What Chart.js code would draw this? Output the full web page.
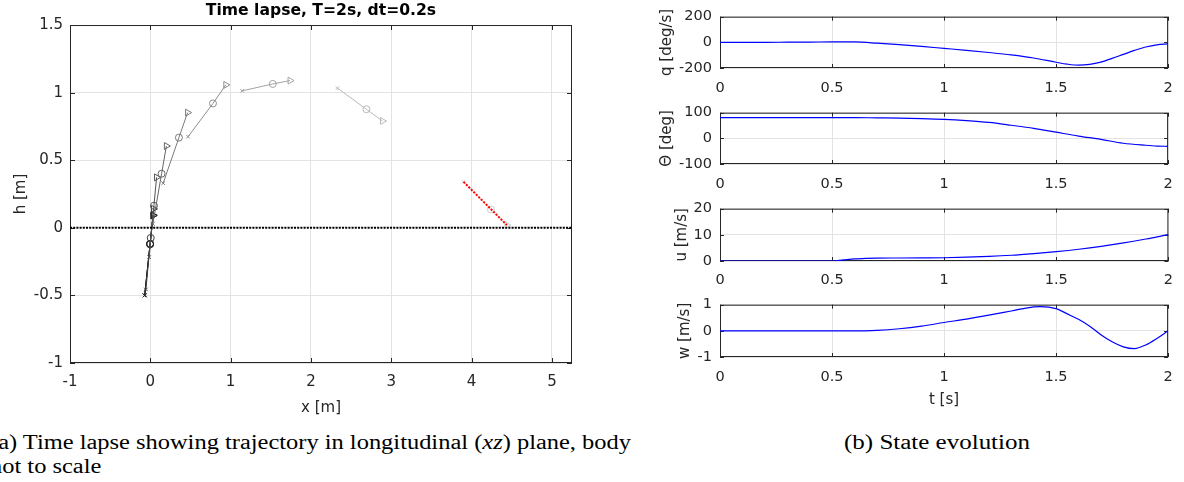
<!DOCTYPE html>
<html>
<head>
<meta charset="utf-8">
<title>Time lapse and state evolution</title>
<script src="https://cdn.jsdelivr.net/npm/chart.js@4.4.1/dist/chart.umd.min.js"></script>
<style>
  html, body { margin: 0; padding: 0; background: #fff; }
  body { position: relative; width: 1184px; height: 482px; overflow: hidden; }
  canvas { position: absolute; }
  .caption {
    position: absolute;
    font-family: "Liberation Serif", serif;
    font-size: 20px;
    line-height: 24px;
    color: #000;
    white-space: nowrap;
    transform-origin: 0 0;
  }
</style>
</head>
<body>
<canvas id="lapse" width="600" height="420" style="left:0;top:0"></canvas>
<canvas id="qPlot" width="544" height="96" style="left:640px;top:0"></canvas>
<canvas id="thetaPlot" width="544" height="96" style="left:640px;top:96px"></canvas>
<canvas id="uPlot" width="544" height="96" style="left:640px;top:192px"></canvas>
<canvas id="wPlot" width="544" height="130" style="left:640px;top:288px"></canvas>

<div class="caption" style="left:-10px;top:430px" data-width="641">(a) Time lapse showing trajectory in longitudinal (<i>xz</i>) plane, body<br>not to scale</div>
<div class="caption" style="left:844px;top:430px" data-width="186">(b) State evolution</div>

<script>
// body snapshots every dt = 0.2 s: tail (x), centre (o) and nose (>) of the body
const snapTimes = [0, 0.2, 0.4, 0.6, 0.8, 1.0, 1.2, 1.4, 1.6, 1.8, 2.0];
const tailX = [-0.07, -0.07, -0.07, -0.055, -0.015, 0.032, 0.16, 0.47, 1.143, 2.33, 3.90];
const tailH = [-0.50, -0.50, -0.50, -0.456, -0.217, 0.03, 0.33, 0.674, 1.013, 1.033, 0.34];
const midX = [-0.003, -0.003, -0.003, 0.005, 0.045, 0.14, 0.356, 0.78, 1.525, 2.69, 4.24];
const midH = [-0.12, -0.12, -0.12, -0.075, 0.163, 0.40, 0.667, 0.92, 1.064, 0.877, 0.136];
const noseX = [0.035, 0.035, 0.035, 0.04, 0.078, 0.20, 0.464, 0.94, 1.74, 2.89, 4.44];
const noseH = [0.092, 0.092, 0.092, 0.14, 0.373, 0.605, 0.852, 1.057, 1.089, 0.79, 0.02];

// ground level and final body position (red dotted)
const groundX = [-1, 5.25];
const groundH = [0, 0];
const finalX = [3.90, 4.44];
const finalH = [0.34, 0.02];

const xTicks = [-1, 0, 1, 2, 3, 4, 5];
const hTicks = [-1, -0.5, 0, 0.5, 1, 1.5];

// state histories
const qT = [0, 0.1, 0.2, 0.3, 0.4, 0.5, 0.6, 0.7, 0.8, 0.9, 1.0, 1.1, 1.2, 1.3, 1.4, 1.5, 1.55, 1.6, 1.65, 1.7, 1.75, 1.8, 1.85, 1.9, 1.95, 2.0];
const qV = [0, 0, 0, 1, 2, 4, 3, -6, -18, -32, -47, -62, -79, -98, -122, -155, -170, -178, -172, -154, -125, -94, -63, -36, -19, -12];

const thetaT = [0, 0.2, 0.4, 0.6, 0.7, 0.8, 0.9, 1.0, 1.1, 1.2, 1.3, 1.4, 1.5, 1.6, 1.7, 1.8, 1.9, 1.95, 2.0];
const thetaV = [81, 81, 81, 81, 80, 79, 77, 74, 69, 62, 51, 39, 24, 9, -4, -19, -27, -30, -31];

const uT = [0, 0.5, 0.55, 0.6, 0.65, 0.7, 0.8, 0.9, 1.0, 1.1, 1.2, 1.3, 1.4, 1.5, 1.6, 1.7, 1.8, 1.9, 2.0];
const uV = [0, 0, 0.4, 0.8, 1.0, 1.1, 1.15, 1.2, 1.25, 1.45, 1.75, 2.2, 2.85, 3.6, 4.5, 5.6, 6.9, 8.4, 10.1];

const wT = [0, 0.6, 0.7, 0.8, 0.9, 1.0, 1.1, 1.2, 1.3, 1.4, 1.43, 1.5, 1.55, 1.6, 1.65, 1.7, 1.75, 1.8, 1.85, 1.9, 1.95, 2.0];
const wV = [0, 0, 0.02, 0.08, 0.18, 0.32, 0.45, 0.6, 0.76, 0.92, 0.93, 0.85, 0.65, 0.44, 0.18, -0.15, -0.42, -0.61, -0.68, -0.54, -0.29, 0];

const tTicks = [0, 0.5, 1, 1.5, 2];
const qTicks = [-200, 0, 200];
const thetaTicks = [-100, 0, 100];
const uTicks = [0, 10, 20];
const wTicks = [-1, 0, 1];

Chart.defaults.font.family = '"DejaVu Sans", sans-serif';
Chart.defaults.color = '#262626';
Chart.defaults.animation = false;
Chart.defaults.events = [];
Chart.defaults.plugins.legend.display = false;
Chart.defaults.plugins.tooltip.enabled = false;

const gridColor = '#e3e3e3';

// box around the plot area with ticks pointing inwards on all four sides
const axesBox = {
  id: 'axesBox',
  beforeDatasetsDraw(chart, args, opts) {
    const { ctx, chartArea: a, scales } = chart;
    const len = opts.tickLength || 4;
    ctx.save();
    ctx.strokeStyle = '#262626';
    ctx.lineWidth = 1;
    ctx.beginPath();
    scales.x.ticks.forEach(t => {
      const px = Math.round(scales.x.getPixelForValue(t.value)) + 0.5;
      ctx.moveTo(px, a.bottom); ctx.lineTo(px, a.bottom - len);
      ctx.moveTo(px, a.top); ctx.lineTo(px, a.top + len);
    });
    scales.y.ticks.forEach(t => {
      const py = Math.round(scales.y.getPixelForValue(t.value)) + 0.5;
      ctx.moveTo(a.left, py); ctx.lineTo(a.left + len, py);
      ctx.moveTo(a.right, py); ctx.lineTo(a.right - len, py);
    });
    ctx.stroke();
    ctx.strokeRect(a.left + 0.5, a.top + 0.5, a.right - a.left - 1, a.bottom - a.top - 1);
    ctx.restore();
  }
};

function pts(xs, ys) {
  return xs.map((x, k) => ({ x: x, y: ys[k] }));
}

// time lapse of the body in the x-h plane, darker = earlier
const lapseSets = [];
snapTimes.forEach((t, i) => {
  const g = Math.round(204 * t / 2);
  const c = 'rgb(' + g + ',' + g + ',' + g + ')';
  lapseSets.push({
    data: [{ x: tailX[i], y: tailH[i] }, { x: midX[i], y: midH[i] }, { x: noseX[i], y: noseH[i] }],
    showLine: true,
    borderColor: c,
    borderWidth: 1,
    pointBorderColor: c,
    pointBackgroundColor: 'rgba(0,0,0,0)',
    pointBorderWidth: 1,
    pointStyle: ['crossRot', 'circle', 'triangle'],
    pointRadius: [2.5, 3.5, 4],
    pointRotation: [0, 0, 90],
    order: 50 - i
  });
});
lapseSets.push({
  data: pts(groundX, groundH), showLine: true, borderColor: '#000', borderWidth: 2,
  borderDash: [2, 1.2], pointRadius: 0, order: 1
});
lapseSets.push({
  data: pts(finalX, finalH), showLine: true, borderColor: '#ff0000', borderWidth: 2,
  borderDash: [2, 1.5], pointRadius: 0, order: 0
});

new Chart(document.getElementById('lapse'), {
  type: 'scatter',
  data: { datasets: lapseSets },
  options: {
    responsive: false,
    layout: { padding: { top: 0, right: 28, bottom: 0, left: 0 } },
    plugins: {
      title: {
        display: true,
        fullSize: false,
        text: 'Time lapse, T=2s, dt=0.2s',
        color: '#000',
        font: { size: 15.6, weight: 'bold' },
        padding: { top: 1.6, bottom: 4.7 }
      },
      axesBox: { tickLength: 5 }
    },
    scales: {
      x: {
        type: 'linear', min: -1, max: 5.25,
        afterBuildTicks: s => { s.ticks = xTicks.map(v => ({ value: v })); },
        afterFit: s => { s.height = 57; },
        grid: { color: gridColor, drawTicks: false },
        border: { display: false },
        ticks: { padding: 10, font: { size: 15 }, callback: v => String(v) },
        title: { display: true, text: 'x [m]', font: { size: 15 }, padding: { top: 0, bottom: 3 } }
      },
      y: {
        type: 'linear', min: -1, max: 1.5,
        afterBuildTicks: s => { s.ticks = hTicks.map(v => ({ value: v })); },
        afterFit: s => { s.width = 70; },
        grid: { color: gridColor, drawTicks: false },
        border: { display: false },
        ticks: { padding: 7, font: { size: 15 }, callback: v => String(v) },
        title: { display: true, text: 'h [m]', font: { size: 15 }, padding: { top: 12, bottom: 0 } }
      }
    }
  },
  plugins: [axesBox]
});

// one small panel per state, sharing the time axis 0..2 s
function statePanel(id, t, v, yTicks, yLabel, cfg) {
  return new Chart(document.getElementById(id), {
    type: 'scatter',
    data: {
      datasets: [{
        data: pts(t, v),
        showLine: true,
        borderColor: '#0000ff',
        borderWidth: 1.2,
        pointRadius: 0,
        cubicInterpolationMode: 'monotone'
      }]
    },
    options: {
      responsive: false,
      layout: { padding: { top: cfg.top, right: 9, bottom: 0, left: 0 } },
      plugins: { axesBox: { tickLength: 4 } },
      scales: {
        x: {
          type: 'linear', min: 0, max: 2,
          afterBuildTicks: s => { s.ticks = tTicks.map(x => ({ value: x })); },
          afterFit: s => { s.height = cfg.axisH; },
          grid: { color: gridColor, drawTicks: false },
          border: { display: false },
          ticks: { padding: cfg.tickPad, font: { size: 14.5 }, callback: x => String(x) },
          title: { display: !!cfg.xLabel, text: cfg.xLabel || '', font: { size: 15 }, padding: { top: 0, bottom: 9 } }
        },
        y: {
          type: 'linear', min: yTicks[0], max: yTicks[yTicks.length - 1],
          afterBuildTicks: s => { s.ticks = yTicks.map(y => ({ value: y })); },
          afterFit: s => { s.width = 80; },
          grid: { color: gridColor, drawTicks: false },
          border: { display: false },
          ticks: { padding: 8, font: { size: 14.5 }, callback: y => String(y) },
          title: { display: true, text: yLabel, font: { size: 15 }, padding: { top: cfg.labelPad, bottom: 0 } }
        }
      }
    },
    plugins: [axesBox]
  });
}

statePanel('qPlot', qT, qV, qTicks, 'q [deg/s]', { top: 13, axisH: 28, tickPad: 11.3, labelPad: 17.7 });
statePanel('thetaPlot', thetaT, thetaV, thetaTicks, 'Θ [deg]', { top: 13, axisH: 28, tickPad: 11.3, labelPad: 17.7 });
statePanel('uPlot', uT, uV, uTicks, 'u [m/s]', { top: 13, axisH: 27, tickPad: 11, labelPad: 32.7 });
statePanel('wPlot', wT, wV, wTicks, 'w [m/s]', { top: 14, axisH: 61, tickPad: 11.3, labelPad: 36, xLabel: 't [s]' });

// stretch the captions to their line widths
document.querySelectorAll('.caption').forEach(el => {
  const w = el.getBoundingClientRect().width;
  el.style.transform = 'scaleX(' + (Number(el.dataset.width) / w) + ')';
});
</script>
</body>
</html>
